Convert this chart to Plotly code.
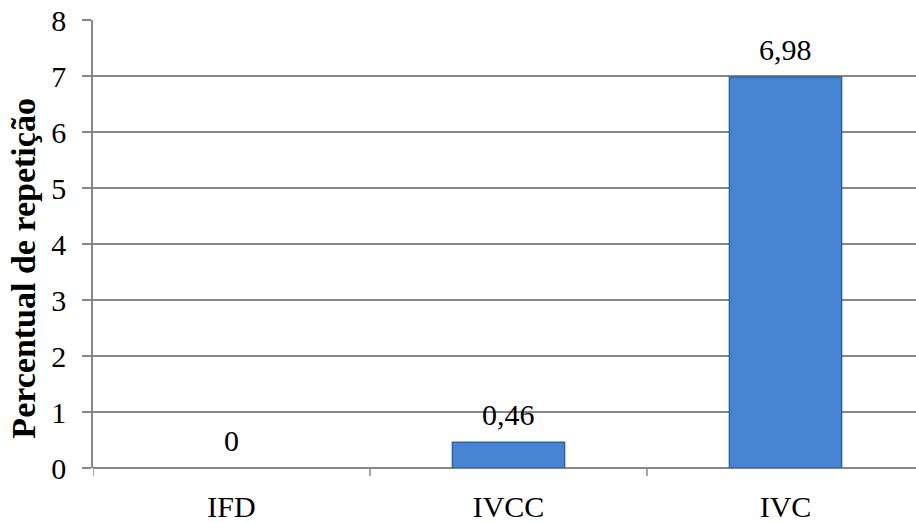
import plotly.graph_objects as go

categories = ["IFD", "IVCC", "IVC"]
values = [0, 0.46, 6.98]
y_ticks = [0, 1, 2, 3, 4, 5, 6, 7, 8]
y_title = "Percentual de repetição"

font_family = "Liberation Serif, Times New Roman, serif"
grid_color = "#878787"

fig = go.Figure()
fig.add_trace(go.Bar(
    x=categories,
    y=values,
    width=0.405,
    marker=dict(color="#4884d2",
                line=dict(color="#2f62a6",
                          width=[0 if v == 0 else 1.5 for v in values])),
    hoverinfo="x+y",
))

for c, v in zip(categories, values):
    fig.add_annotation(
        x=c, y=v, xref="x", yref="y",
        text=f"{v:g}".replace(".", ","),
        showarrow=False, yanchor="bottom", yshift=9,
        font=dict(family=font_family, size=30, color="black"),
    )

# y-axis title as annotation (positioned like the reference)
fig.add_annotation(
    x=0, y=0.445, xref="paper", yref="paper",
    text=f"<b>{y_title}</b>", textangle=-90,
    showarrow=False, xanchor="center", yanchor="middle", xshift=-69,
    font=dict(family=font_family, size=34, color="black"),
)

fig.update_layout(
    width=916,
    height=523,
    margin=dict(l=93, r=0, t=20, b=53),
    paper_bgcolor="white",
    plot_bgcolor="white",
    showlegend=False,
    separators=",.",
    font=dict(family=font_family, color="black"),
    xaxis=dict(
        range=[-0.5, -0.5 + 823 / 277],
        showgrid=False,
        showline=False,
        ticks="",
        tickfont=dict(size=30, family=font_family, color="black"),
        ticklabelstandoff=18,
    ),
    yaxis=dict(
        range=[0, 8],
        tickvals=y_ticks,
        showgrid=True,
        gridcolor=grid_color,
        gridwidth=1.5,
        showline=True,
        linecolor=grid_color,
        linewidth=1.5,
        ticks="outside",
        ticklen=9,
        tickcolor=grid_color,
        tickwidth=1.5,
        tickfont=dict(size=30, family=font_family, color="black"),
        ticklabelstandoff=10,
        zeroline=True,
        zerolinecolor=grid_color,
        zerolinewidth=1.5,
    ),
)

# category boundary tick marks on the x axis
for b in [-0.5, 0.5, 1.5]:
    fig.add_shape(type="line", xref="x", yref="paper",
                  x0=b, x1=b, y0=0, y1=-0.018,
                  line=dict(color=grid_color, width=1.5))

fig.write_html(
    "out.html",
    config={"displayModeBar": False},
    post_script="document.body.style.margin='0';document.body.style.overflow='hidden';",
)
